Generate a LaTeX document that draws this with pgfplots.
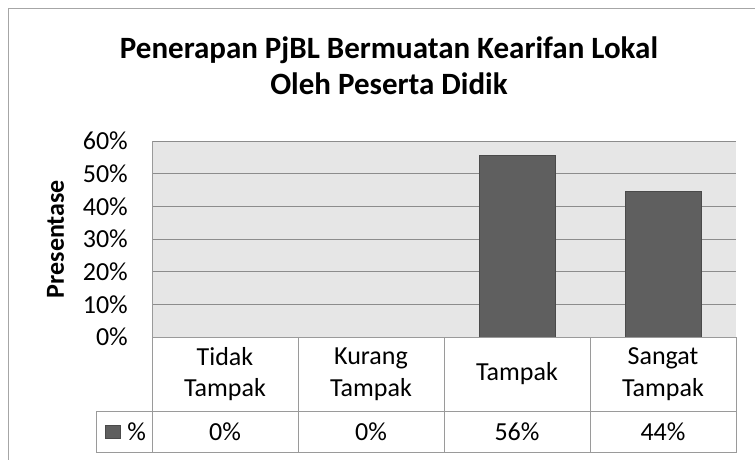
\documentclass[border=0pt]{standalone}
\usepackage{fontspec}
\setmainfont{Carlito}
\usepackage{pgfplots}
\pgfplotsset{compat=1.18}
\definecolor{barfill}{HTML}{5F5F5F}
\definecolor{bardraw}{HTML}{4A4A4A}
\definecolor{plotbg}{HTML}{E6E6E6}
\definecolor{gridc}{HTML}{8C8C8C}
\definecolor{tablec}{HTML}{9A9A9A}
\definecolor{borderc}{HTML}{A6A6A6}
\newcommand{\bodyfont}{\fontsize{26}{31.7}\selectfont}
\begin{document}
\begin{tikzpicture}[x=1pt,y=1pt]
\path[use as bounding box] (0,0) rectangle (755,459);
% outer chart border
\draw[borderc, line width=1pt] (8,-2) -- (8,450) -- (757,450);
\begin{axis}[
  at={(152pt,122pt)}, anchor=south west,
  scale only axis, width=584pt, height=196pt,
  xmin=-0.5, xmax=3.5, ymin=0, ymax=60,
  axis background/.style={fill=plotbg},
  axis x line*=bottom, axis y line*=left,
  axis line style={draw=tablec, line width=1pt, -},
  major tick length=0pt,
  ymajorgrids, grid style={gridc, line width=1pt},
  ytick={0,10,20,30,40,50,60},
  yticklabels={0\%,10\%,20\%,30\%,40\%,50\%,60\%},
  yticklabel style={inner sep=0pt, xshift=-24pt, font=\bodyfont},
  xtick={0,1,2,3},
  xticklabels={{Tidak\\Tampak},{Kurang\\Tampak},{Tampak},{Sangat\\Tampak}},
  xticklabel style={anchor=center, align=center, yshift=-37pt, font=\bodyfont},
  extra x ticks={0,1,2,3},
  extra x tick labels={0\%,0\%,56\%,44\%},
  extra x tick style={xticklabel style={yshift=-58pt}},
  ylabel={Presentase},
  every axis y label/.style={at={(axis description cs:-0.151,0.5)}, rotate=90, anchor=base, inner sep=0pt, font=\bodyfont\bfseries},
  clip=false,
  legend style={at={(axis description cs:-0.0805,-0.4847)}, anchor=west, draw=none, fill=none, inner sep=0pt, outer sep=0pt, font=\bodyfont, nodes={inner sep=0pt}},
  legend image code/.code={\draw[fill=barfill, draw=bardraw, line width=0.6pt] (0pt,-6pt) rectangle (15pt,7pt); \path[draw=none, fill=none] (0pt,0pt) -- (22pt,0pt);},
]
\addplot[ybar, bar width=0.52, fill=barfill, draw=bardraw, line width=0.8pt]
  coordinates {(0,0) (1,0) (2,55.56) (3,44.44)};
\addlegendentry{\%}
\end{axis}
% data table grid
\begin{scope}[tablec, line width=1pt]
\draw (152,122) -- (736,122);
\draw (96,48) -- (736,48);
\draw (96,6.5) -- (736,6.5);
\foreach \x in {152,298,444,590,736} \draw (\x,122) -- (\x,6);
\draw (96,48) -- (96,6);
\end{scope}
% title
\node[anchor=base, font=\fontsize{31}{36}\selectfont\bfseries] at (389,400) {Penerapan PjBL Bermuatan Kearifan Lokal};
\node[anchor=base, font=\fontsize{31}{36}\selectfont\bfseries] at (389,365) {Oleh Peserta Didik};
\end{tikzpicture}
\end{document}
